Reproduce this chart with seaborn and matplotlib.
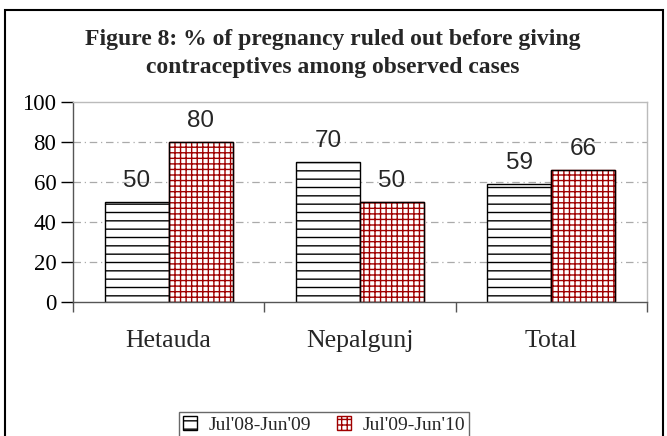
import numpy as np
import pandas as pd
import seaborn as sns
import matplotlib.pyplot as plt
from matplotlib.patches import Rectangle

# data
sites = ['Hetauda', 'Nepalgunj', 'Total']
periods = ["Jul'08-Jun'09", "Jul'09-Jun'10"]
period1_vals = [50, 70, 59]
period2_vals = [80, 50, 66]

df = pd.DataFrame({
    'site': sites * 2,
    'period': [periods[0]] * 3 + [periods[1]] * 3,
    'value': period1_vals + period2_vals,
})

sns.set_style('white')
plt.rcParams['font.family'] = ['Liberation Serif', 'DejaVu Serif']
plt.rcParams['hatch.linewidth'] = 1.0

fig = plt.figure(figsize=(6.67, 4.36), dpi=100)
ax = fig.add_axes([73 / 667, 1 - 302 / 436, 574 / 667, 200 / 436])

sns.barplot(data=df, x='site', y='value', hue='period', hue_order=periods,
            palette=['white', 'white'], width=0.67, gap=0, saturation=1,
            edgecolor='black', linewidth=1, legend=True, ax=ax)

# hatches: first series horizontal black lines, second series red grid
outline = []
for i, p in enumerate(ax.patches):
    if i < 3:
        p.set_hatch('--')
        p.set_edgecolor('black')
    elif i < 6:
        p.set_hatch('+++')
        p.set_edgecolor('#a00000')
        outline.append(p)
for p in outline:
    ax.add_patch(Rectangle((p.get_x(), p.get_y()), p.get_width(), p.get_height(),
                           fill=False, edgecolor='black', linewidth=1, zorder=p.get_zorder() + 0.1))

# value labels
for cont in ax.containers:
    ax.bar_label(cont, fmt='%d', padding=7, fontsize=17.5, family='Liberation Sans')

ax.set_ylim(0, 100)
ax.set_xlim(-0.5, 2.5)
ax.set_yticks(np.arange(0, 101, 20))
ax.set_xlabel('')
ax.set_ylabel('')
ax.tick_params(axis='y', left=True, direction='out', length=9, width=1, labelsize=16.5, colors='black', pad=3)
ax.tick_params(axis='x', bottom=False, labelsize=18.5, pad=17)
ax.set_xticks([-0.5, 0.5, 1.5, 2.5], minor=True)
ax.tick_params(axis='x', which='minor', bottom=True, direction='out', length=7, width=1, color='#555555')

for y in [20, 40, 60, 80]:
    ax.axhline(y, color='#aaaaaa', lw=0.9, ls=(0, (6, 3, 1, 3)), zorder=0)
ax.spines['top'].set_color('#bbbbbb')
ax.spines['right'].set_color('#bbbbbb')
ax.spines['left'].set_color('#555555')
ax.spines['bottom'].set_color('#555555')
for s in ax.spines.values():
    s.set_linewidth(1)

# legend
leg = ax.legend(loc='center', bbox_to_anchor=(324 / 667, 1 - 425 / 436),
                bbox_transform=fig.transFigure, ncol=2, fontsize=14, frameon=True,
                fancybox=False, edgecolor='#444444', handlelength=0.75, handleheight=0.75,
                handletextpad=0.6, columnspacing=1.3, borderpad=0.2, borderaxespad=0)
leg.get_frame().set_linewidth(1)
for h, hatch, col in zip(leg.legend_handles, ['--', '+++'], ['black', '#a00000']):
    h.set_hatch(hatch)
    h.set_edgecolor(col)

fig.text(333 / 667, 1 - 39 / 436, 'Figure 8: % of pregnancy ruled out before giving',
         ha='center', va='center', fontsize=17, fontweight='bold')
fig.text(333 / 667, 1 - 67 / 436, 'contraceptives among observed cases',
         ha='center', va='center', fontsize=17, fontweight='bold')

# outer frame
fig.patches.append(Rectangle((4.5 / 667, -0.1), 658 / 667, 1.1 - 10.5 / 436, fill=False,
                             edgecolor='black', linewidth=1.5, transform=fig.transFigure))

fig.savefig('out.png', dpi=100)
